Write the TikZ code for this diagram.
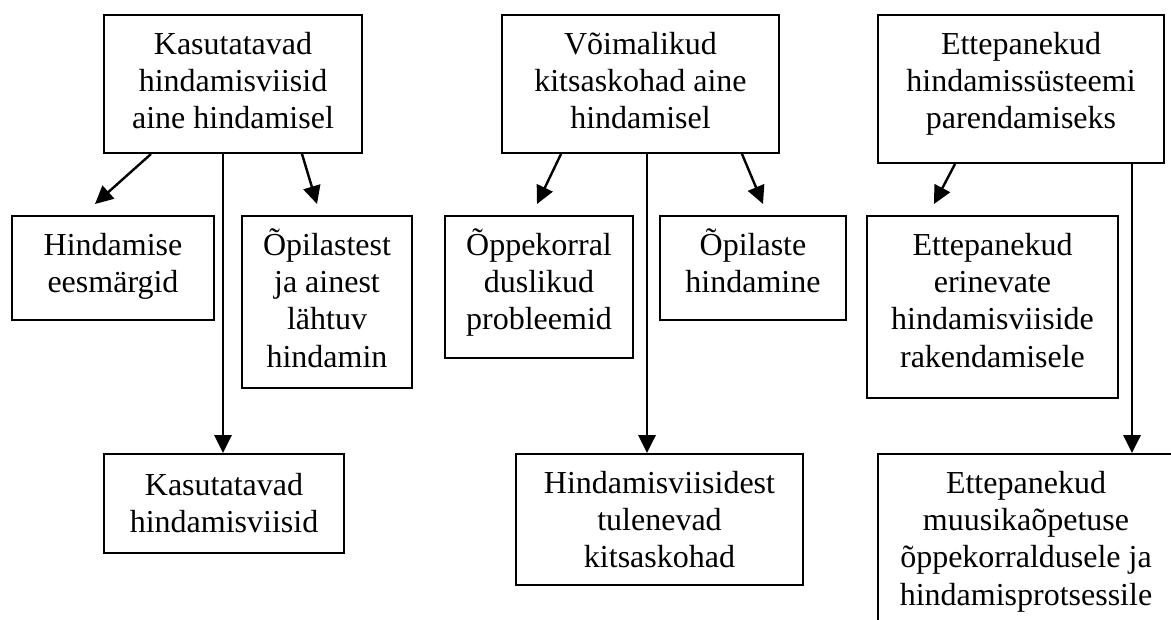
\documentclass[tikz,border=0pt]{standalone}
\usepackage{fontspec}
\setmainfont{Liberation Serif}
\usetikzlibrary{arrows.meta,calc}
\begin{document}
\begin{tikzpicture}[x=0.75pt,y=-0.75pt,
  box/.style={draw, line width=1.5pt, inner sep=0pt, anchor=north west},
  txt/.style={anchor=north, inner sep=0pt, align=center, font=\fontsize{24}{28}\selectfont},
  arr/.style={line width=1.8pt, -{Triangle[length=13.5pt,width=13pt]}}]
\useasboundingbox (0,0) rectangle (1171,619);
\clip (0,0) rectangle (1171,619);
\fill[white] (0,0) rectangle (1171,619);

% top boxes
\node[box, minimum width=193.5pt, minimum height=103.5pt] (b1) at (103,14) {};
\node[box, minimum width=207.75pt, minimum height=103.5pt] (b2) at (501,14) {};
\node[box, minimum width=214.5pt, minimum height=111pt] (b3) at (877,14) {};
% middle boxes
\node[box, minimum width=151.5pt, minimum height=78pt] (b4) at (11,215) {};
\node[box, minimum width=127.5pt, minimum height=129pt] (b5) at (241,215) {};
\node[box, minimum width=141pt, minimum height=106.5pt] (b7) at (444,215) {};
\node[box, minimum width=139.5pt, minimum height=78pt] (b8) at (659,215) {};
\node[box, minimum width=188.25pt, minimum height=136.5pt] (b10) at (866,215) {};
% bottom boxes
\node[box, minimum width=180pt, minimum height=74.25pt] (b6) at (103,453) {};
\node[box, minimum width=215.25pt, minimum height=98.25pt] (b9) at (515,453) {};
\node[box, minimum width=222pt, minimum height=135pt] (b11) at (877,453) {};

% texts
\node[txt] (t1) at ($(b1.north)+(0,9.33)$) {\rule{0pt}{23pt}Kasutatavad\\hindamisviisid\\aine hindamisel};
\node[txt] (t2) at ($(b2.north)+(0,9.33)$) {\rule{0pt}{23pt}Võimalikud\\kitsaskohad aine\\hindamisel};
\node[txt] (t3) at ($(b3.north)+(0,9.33)$) {\rule{0pt}{23pt}Ettepanekud\\hindamissüsteemi\\parendamiseks};
\node[txt] (t4) at ($(b4.north)+(0,9.33)$) {\rule{0pt}{23pt}Hindamise\\eesmärgid};
\node[txt] (t5) at ($(b5.north)+(0,9.33)$) {\rule{0pt}{23pt}Õpilastest\\ja ainest\\lähtuv\\hindamin};
\node[txt] (t6) at ($(b6.north)+(0,11.33)$) {\rule{0pt}{23pt}Kasutatavad\\hindamisviisid};
\node[txt] (t7) at ($(b7.north)+(0,9.33)$) {\rule{0pt}{23pt}Õppekorral\\duslikud\\probleemid};
\node[txt] (t8) at ($(b8.north)+(0,9.33)$) {\rule{0pt}{23pt}Õpilaste\\hindamine};
\node[txt] (t9) at ($(b9.north)+(0,9.33)$) {\rule{0pt}{23pt}Hindamisviisidest\\tulenevad\\kitsaskohad};
\node[txt] (t10) at ($(b10.north)+(0,9.33)$) {\rule{0pt}{23pt}Ettepanekud\\erinevate\\hindamisviiside\\rakendamisele};
\node[txt] (t11) at ($(b11.north)+(0,9.33)$) {\rule{0pt}{23pt}Ettepanekud\\muusikaõpetuse\\õppekorraldusele ja\\hindamisprotsessile};

% arrows
\draw[arr] ($(b1.south west)+(48,0)$) -- ($(b4.north west)+(84,-11)$);
\draw[arr] ($(b1.south west)+(120,0)$) -- ($(b6.north west)+(120,0)$);
\draw[arr] ($(b1.south west)+(199,0)$) -- ($(b5.north west)+(76,-11)$);
\draw[arr] ($(b2.south west)+(60,0)$) -- ($(b7.north west)+(93,-11)$);
\draw[arr] ($(b2.south west)+(146,0)$) -- ($(b9.north west)+(132,0)$);
\draw[arr] ($(b2.south west)+(241,0)$) -- ($(b8.north west)+(104,-11)$);
\draw[arr] ($(b3.south west)+(78,0)$) -- ($(b10.north west)+(68,-11)$);
\draw[arr] ($(b3.south west)+(255,0)$) -- ($(b11.north west)+(255,0)$);
\end{tikzpicture}
\end{document}
